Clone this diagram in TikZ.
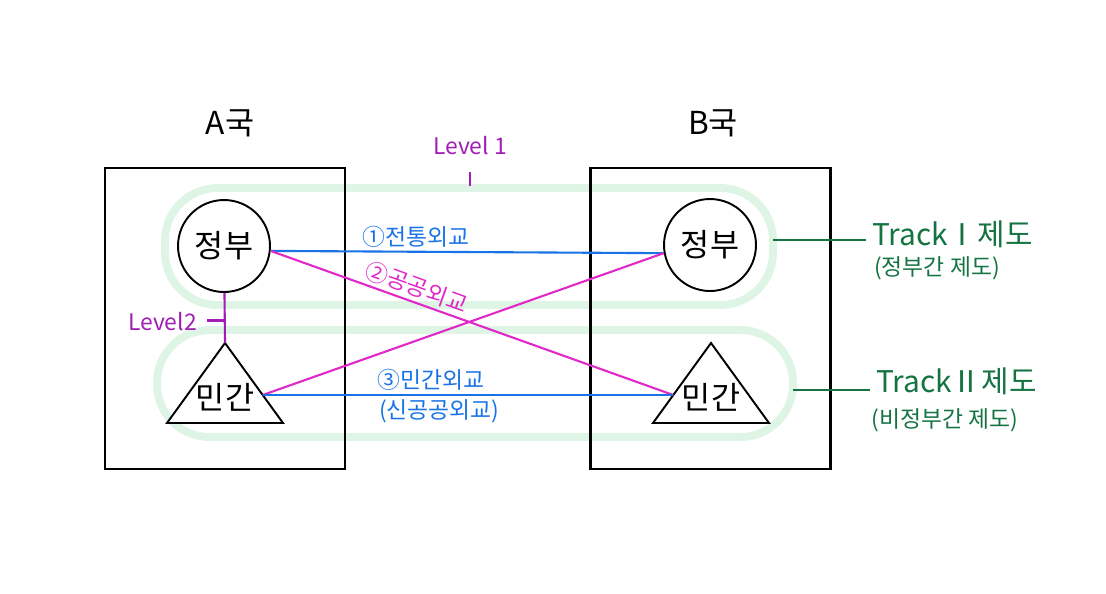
\documentclass[tikz,border=0pt]{standalone}
\usepackage{fontspec}
\setmainfont{Noto Sans CJK KR}
\definecolor{dipblue}{RGB}{25,115,230}
\definecolor{dipmagenta}{RGB}{225,40,200}
\definecolor{lvpurple}{RGB}{160,30,180}
\definecolor{trackgreen}{RGB}{20,115,65}
\definecolor{loopmint}{RGB}{222,245,230}
\usetikzlibrary{positioning,calc}

\begin{document}
\begin{tikzpicture}[x=0.02cm,y=-0.02cm,
  country/.style={draw,line width=1.4pt,minimum width=4.8cm,minimum height=6.02cm,inner sep=0pt},
  title/.style={font=\fontsize{18}{20}\selectfont},
  gov/.style={circle,draw,fill=white,line width=1.1pt,minimum size=1.84cm,inner sep=0pt,font=\fontsize{18}{20}\selectfont},
  civ/.style={draw,fill=white,line width=1.1pt},
  civtext/.style={inner sep=1pt,font=\fontsize{18}{20}\selectfont},
  loopline/.style={loopmint,line width=4.5pt,rounded corners=1.05cm},
  diplink/.style={line width=1.2pt},
  diplabel/.style={font=\fontsize{13}{15}\selectfont,inner sep=2pt},
  lvlabel/.style={lvpurple,font=\fontsize{13}{15}\selectfont},
  tracklabel/.style={trackgreen,font=\fontsize{17}{19}\selectfont},
  tracksub/.style={trackgreen,font=\fontsize{13}{15}\selectfont}]
  \useasboundingbox (0,0) rectangle (1106,593);

  % track loops behind everything
  \draw[loopline] (165,188) rectangle (773,305);
  \draw[loopline] (157,330) rectangle (793,437);
  \coordinate (loopone) at (773,240);
  \coordinate (looptwo) at (793,390);

  % countries
  \node[country] (boxa) at (225,318.5) {};
  \node[country] (boxb) at (710.5,318.5) {};
  \node[title] (titlea) at (230,123) {A국};
  \node[title] (titleb) at (713,123) {B국};

  % actors
  \node[gov] (ga) at (224,246) {정부};
  \node[gov] (gb) at (710,245) {정부};
  \foreach \n/\x in {ca/225,cb/711}{
    \draw[civ] (\x,343) coordinate (\n-apex) -- (\x+58,423) coordinate (\n-right)
      -- (\x-58,423) coordinate (\n-left) -- cycle;
    \node[civtext] (\n) at (\x,397) {민간};
  }
  \coordinate (ca-east) at ($(ca-apex)!0.65!(ca-right)$);
  \coordinate (cb-west) at ($(cb-apex)!0.65!(cb-left)$);

  % diplomacy links
  \draw[diplink,dipblue] (ga.-6) -- node[diplabel,above,pos=0.37] {①전통외교} (gb.190);
  \draw[diplink,dipmagenta] (ga.-6) -- node[diplabel,above,sloped,pos=0.35] {②공공외교} (cb-west);
  \draw[diplink,dipmagenta] (ca-east) -- (gb.190);
  \draw[diplink,dipblue] (ca-east) -- node[diplabel,above,pos=0.41] {③민간외교}
    node[diplabel,below,pos=0.43] {(신공공외교)} (cb-west);

  % levels
  \draw[diplink,lvpurple] (ga) -- coordinate[pos=0.55] (lvtwofoot) (ca-apex);
  \node[lvlabel] (lvone) at (470,146) {Level 1};
  \node[lvlabel,anchor=east] (lvtwo) at (203,322) {Level2};
  \draw[diplink,lvpurple] ([yshift=-0.22cm]lvone.south) -- ([yshift=-0.5cm]lvone.south);
  \draw[diplink,lvpurple] (lvtwofoot) -- ++(-18,0);

  % tracks
  \node[tracklabel,anchor=west] (trackone) at (866,234) {TrackⅠ제도};
  \node[tracksub] (trackonesub) at (937,268) {(정부간 제도)};
  \node[tracklabel,anchor=west] (tracktwo) at (870,381) {TrackⅡ제도};
  \node[tracksub] (tracktwosub) at (945,420) {(비정부간 제도)};
  \draw[diplink,trackgreen] (loopone) -- (trackone.west|-loopone);
  \draw[diplink,trackgreen] (looptwo) -- (tracktwo.west|-looptwo);
\end{tikzpicture}
\end{document}
